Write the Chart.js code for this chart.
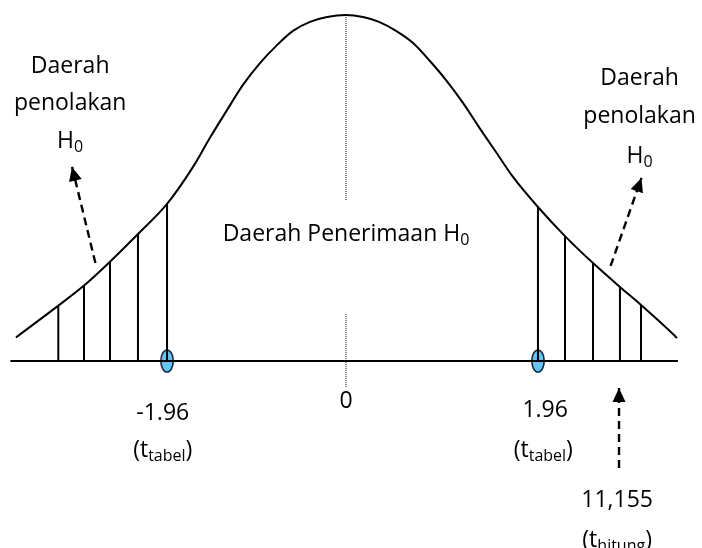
<!DOCTYPE html>
<html>
<head>
<meta charset="utf-8">
<script src="https://cdn.jsdelivr.net/npm/chart.js@4/dist/chart.umd.min.js"></script>
<style>
  html, body { margin: 0; padding: 0; background: #fff; }
  #kurva { display: block; }
</style>
</head>
<body>
<canvas id="kurva" width="702" height="548"></canvas>
<script>
// kurva normal, x dalam satuan t, y relatif terhadap puncak
let curveX = [-3.53, -3.077, -2.802, -2.524, -2.225, -1.914, -1.636, -1.455, -1.273, -1.102, -0.920, -0.738, -0.567, -0.385, -0.203, 0,
    0.182, 0.353, 0.535, 0.717, 0.888, 1.070, 1.251, 1.422, 1.604, 1.786, 2.053, 2.342, 2.642, 2.930, 3.155, 3.508, 3.54];
let curveY = [0.068, 0.160, 0.218, 0.287, 0.367, 0.454, 0.561, 0.645, 0.725, 0.798, 0.861, 0.913, 0.954, 0.980, 0.994, 1.0,
    0.994, 0.980, 0.954, 0.919, 0.870, 0.812, 0.746, 0.676, 0.604, 0.532, 0.445, 0.361, 0.283, 0.214, 0.162, 0.075, 0.066];

// garis arsiran daerah penolakan
let hatchX = [-3.077, -2.802, -2.524, -2.225, 2.342, 2.642, 2.930, 3.155];
let hatchTop = [0.160, 0.218, 0.287, 0.367, 0.361, 0.283, 0.214, 0.162];

// titik kritis t tabel
let criticalX = [-1.914, 2.053];
let criticalTop = [0.454, 0.445];
let criticalLabels = ['-1.96', '1.96'];

// sumbu dan garis tengah
let axisX = [-3.59, 3.55];
let centerUpper = [1.0, 0.465];
let centerLower = [0.136, -0.075];

// panah putus-putus
let arrowFromX = [-2.68, 2.83, 2.92];
let arrowFromY = [0.283, 0.275, -0.309];
let arrowToX = [-2.93, 3.16, 2.92];
let arrowToY = [0.561, 0.529, -0.078];

let tHitung = '11,155';

// skala gambar: 0 di x=346px, 1 satuan = 93.5px, dasar di y=361px, puncak 346px di atasnya
let W = 702, H = 548;
let pxX = 93.5, zeroX = 346, pxY = 346, baseY = 361;
let xMin = -zeroX / pxX, xMax = (W - zeroX) / pxX;
let yMin = -(H - baseY) / pxY, yMax = baseY / pxY;

let font = '"Open Sans", "Noto Sans", sans-serif';
let fontSize = 23;

// teks: posisi garis dasar dalam satuan data
let labels = [
    { x: -2.95, y: 0.832, parts: [['Daerah']] },
    { x: -2.95, y: 0.725, parts: [['penolakan']] },
    { x: -2.95, y: 0.616, parts: [['H'], ['0', true]] },
    { x: 3.14, y: 0.798, parts: [['Daerah']] },
    { x: 3.14, y: 0.688, parts: [['penolakan']] },
    { x: 3.14, y: 0.572, parts: [['H'], ['0', true]] },
    { x: 0, y: 0.347, parts: [['Daerah Penerimaan H'], ['0', true]] },
    { x: 0, y: -0.136, parts: [['0']] },
    { x: -1.96, y: -0.171, parts: [[criticalLabels[0]]] },
    { x: -1.96, y: -0.277, parts: [['(t'], ['tabel', true], [')']] },
    { x: 2.13, y: -0.162, parts: [[criticalLabels[1]]] },
    { x: 2.11, y: -0.277, parts: [['(t'], ['tabel', true], [')']] },
    { x: 2.90, y: -0.422, parts: [[tHitung]] },
    { x: 2.90, y: -0.538, parts: [['(t'], ['hitung', true], [')']] }
];

function ellipseMarker() {
    let c = document.createElement('canvas');
    c.width = 16;
    c.height = 26;
    let g = c.getContext('2d');
    g.beginPath();
    g.ellipse(8, 13, 6.2, 11, 0, 0, Math.PI * 2);
    g.fillStyle = '#63c6f7';
    g.fill();
    g.lineWidth = 1.6;
    g.strokeStyle = '#1c2433';
    g.stroke();
    return c;
}

function renderize() {
    let datasets = [];

    // sumbu horizontal
    datasets.push({
        data: axisX.map(x => ({ x: x, y: 0 })),
        borderColor: '#000', borderWidth: 2, pointRadius: 0
    });

    // kurva
    datasets.push({
        data: curveX.map((x, i) => ({ x: x, y: curveY[i] })),
        borderColor: '#000', borderWidth: 2, pointRadius: 0,
        cubicInterpolationMode: 'monotone'
    });

    // arsiran
    for (let i = 0; i < hatchX.length; i++) {
        datasets.push({
            data: [{ x: hatchX[i], y: 0 }, { x: hatchX[i], y: hatchTop[i] }],
            borderColor: '#000', borderWidth: 2, pointRadius: 0
        });
    }

    // garis kritis + penanda elips
    let marker = ellipseMarker();
    for (let i = 0; i < criticalX.length; i++) {
        datasets.push({
            data: [{ x: criticalX[i], y: 0 }, { x: criticalX[i], y: criticalTop[i] }],
            borderColor: '#000', borderWidth: 2, pointRadius: 0
        });
    }
    datasets.push({
        data: criticalX.map(x => ({ x: x, y: 0 })),
        showLine: false, pointStyle: marker, pointRadius: 8
    });

    // garis tengah titik-titik
    datasets.push({
        data: centerUpper.map(y => ({ x: 0, y: y })),
        borderColor: '#111', borderWidth: 1, borderDash: [1, 1], pointRadius: 0
    });
    datasets.push({
        data: centerLower.map(y => ({ x: 0, y: y })),
        borderColor: '#111', borderWidth: 1, borderDash: [1, 1], pointRadius: 0
    });

    // panah
    for (let i = 0; i < arrowFromX.length; i++) {
        datasets.push({
            data: [{ x: arrowFromX[i], y: arrowFromY[i] }, { x: arrowToX[i], y: arrowToY[i] }],
            borderColor: '#000', borderWidth: 2.4, borderDash: [8, 5], pointRadius: 0,
            arrow: true
        });
    }

    let arrowPlugin = {
        id: 'arrowHeads',
        afterDatasetsDraw(chart) {
            let ctx = chart.ctx;
            chart.data.datasets.forEach((ds, i) => {
                if (!ds.arrow) return;
                let pts = chart.getDatasetMeta(i).data;
                let a = pts[0], b = pts[1];
                let ang = Math.atan2(b.y - a.y, b.x - a.x);
                let len = 14, half = 6.5;
                ctx.save();
                ctx.fillStyle = '#000';
                ctx.beginPath();
                ctx.moveTo(b.x, b.y);
                ctx.lineTo(b.x - len * Math.cos(ang) + half * Math.sin(ang), b.y - len * Math.sin(ang) - half * Math.cos(ang));
                ctx.lineTo(b.x - len * Math.cos(ang) - half * Math.sin(ang), b.y - len * Math.sin(ang) + half * Math.cos(ang));
                ctx.closePath();
                ctx.fill();
                ctx.restore();
            });
        }
    };

    let textPlugin = {
        id: 'labelTeks',
        afterDraw(chart) {
            let ctx = chart.ctx;
            let sx = chart.scales.x, sy = chart.scales.y;
            let big = fontSize + 'px ' + font;
            let small = Math.round(fontSize * 0.68) + 'px ' + font;
            ctx.save();
            ctx.fillStyle = '#000';
            ctx.textBaseline = 'alphabetic';
            ctx.textAlign = 'left';
            labels.forEach(l => {
                let w = 0;
                l.parts.forEach(p => {
                    ctx.font = p[1] ? small : big;
                    w += ctx.measureText(p[0]).width;
                });
                let px = sx.getPixelForValue(l.x) - w / 2;
                let py = sy.getPixelForValue(l.y);
                l.parts.forEach(p => {
                    ctx.font = p[1] ? small : big;
                    ctx.fillText(p[0], px, py + (p[1] ? 4 : 0));
                    px += ctx.measureText(p[0]).width;
                });
            });
            ctx.restore();
        }
    };

    new Chart(document.getElementById('kurva'), {
        type: 'scatter',
        data: { datasets: datasets },
        options: {
            responsive: false,
            animation: false,
            showLine: true,
            layout: { padding: 0, autoPadding: false },
            plugins: { legend: { display: false }, tooltip: { enabled: false } },
            datasets: { scatter: { showLine: true, clip: false } },
            scales: {
                x: { type: 'linear', display: false, min: xMin, max: xMax },
                y: { type: 'linear', display: false, min: yMin, max: yMax }
            }
        },
        plugins: [arrowPlugin, textPlugin]
    });
}

window.onload = renderize();
</script>
</body>
</html>
